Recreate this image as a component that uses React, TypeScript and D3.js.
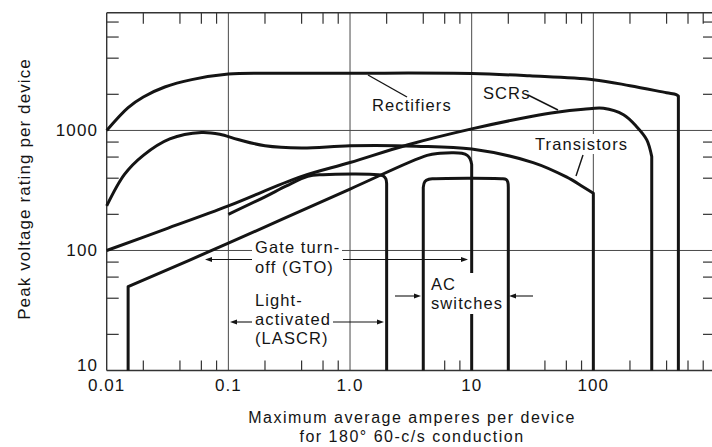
import React from 'react';
import * as d3 from 'd3';

type P = [number, number];

// Curves: [amperes, volts]
const rectifiers: P[] = [
  [0.01, 1000], [0.015, 1550], [0.02, 1900], [0.03, 2300], [0.05, 2650], [0.1, 2950],
  [0.2, 3000], [1, 3000], [10, 2980], [30, 2850], [100, 2650], [200, 2360], [400, 2060],
  [480, 1990], [500, 1930], [500, 10],
];
const transistors: P[] = [
  [0.01, 235], [0.014, 430], [0.02, 620], [0.033, 850], [0.06, 962], [0.085, 930],
  [0.12, 840], [0.2, 745], [0.4, 715], [1, 745], [3.5, 740], [10, 700], [32, 540],
  [60, 410], [82, 340], [100, 300], [100, 10],
];
const scrs: P[] = [
  [0.01, 100], [0.03, 150], [0.1, 235], [0.39, 410], [1, 540], [3, 760], [10, 1030],
  [30, 1300], [50, 1420], [83, 1500], [121, 1530], [177, 1350], [227, 1075], [275, 835],
  [302, 605], [302, 10],
];
const gto: P[] = [
  [0.015, 10], [0.015, 50], [0.1, 115], [1, 325], [4.3, 620], [5.5, 645], [7, 652],
  [8.3, 645], [9.2, 620], [9.7, 580], [10, 520], [10, 10],
];
const lascr: P[] = [
  [0.1, 200], [0.2, 280], [0.3, 345], [0.45, 415], [0.6, 428], [1.7, 428], [1.88, 418],
  [1.97, 395], [2.0, 360], [2.0, 10],
];
const acSwitches: P[] = [
  [4, 10], [4, 335], [4.12, 375], [4.45, 392], [4.9, 396], [17.5, 396], [19.2, 390],
  [19.8, 372], [20, 335], [20, 10],
];

const xTickValues = [0.01, 0.1, 1, 10, 100];
const xTickLabels = ['0.01', '0.1', '1.0', '10', '100'];
const yTickValues = [10, 100, 1000];
const yTickLabels = ['10', '100', '1000'];
const xGrid = [0.1, 1, 10, 100];
const yGrid = [100, 1000];
const minorMult = [2, 4, 6, 8];
const xDecades = [0.01, 0.1, 1, 10, 100];
const yDecades = [10, 100, 1000];

const W = 712;
const H = 447;
const x = d3.scaleLog().domain([0.01, 1000]).range([106.7, 715]);
const y = d3.scaleLog().domain([10, 9570]).range([370.5, 12.7]);
const left = x(0.01);
const right = x(1000);
const top = y(9570);
const bottom = y(10);

const FONT = '"Liberation Sans", Arial, Helvetica, sans-serif';
const INK = '#141414';

function curvePath(pts: P[]): string {
  const n = pts.length;
  const head = pts[0][0] === pts[1][0] ? 1 : 0;
  const tail = pts[n - 1][0] === pts[n - 2][0] ? 1 : 0;
  const core = pts.slice(head, n - tail);
  const gen = d3
    .line<P>()
    .x((d) => x(d[0]))
    .y((d) => y(d[1]))
    .curve(d3.curveCatmullRom.alpha(0.5));
  let d = gen(core) || '';
  if (head) d = `M${x(pts[0][0])},${y(pts[0][1])}L` + d.slice(1);
  if (tail) d += `L${x(pts[n - 1][0])},${y(pts[n - 1][1])}`;
  return d;
}

function Arrow({ x1, x2, yy }: { x1: number; x2: number; yy: number }) {
  const dir = x2 > x1 ? 1 : -1;
  const hl = 7;
  const hw = 2.6;
  return (
    <g>
      <line x1={x1} y1={yy} x2={x2 - dir * hl * 0.6} y2={yy} stroke={INK} strokeWidth={1.1} />
      <polygon
        points={`${x2},${yy} ${x2 - dir * hl},${yy - hw} ${x2 - dir * hl},${yy + hw}`}
        fill={INK}
      />
    </g>
  );
}

export default function App() {
  const xMinor = xDecades.flatMap((d) => minorMult.map((m) => d * m));
  const yMinor = yDecades.flatMap((d) => minorMult.map((m) => d * m));
  const series = [rectifiers, transistors, scrs, gto, lascr, acSwitches];
  const txt = { fontFamily: FONT, fill: INK, letterSpacing: '1.1px' } as const;
  const ttl = { fontFamily: FONT, fill: INK, letterSpacing: '1.5px' } as const;

  return (
    <svg
      width={W}
      height={H}
      style={{ position: 'absolute', left: 0, top: 0, background: '#fff' }}
    >
      <rect x={0} y={0} width={W} height={H} fill="#fff" />
      {/* grid */}
      {xGrid.map((v) => (
        <line key={'gx' + v} x1={x(v)} x2={x(v)} y1={top} y2={bottom} stroke="#4a4a4a" strokeWidth={1} />
      ))}
      {yGrid.map((v) => (
        <line key={'gy' + v} x1={left} x2={right} y1={y(v)} y2={y(v)} stroke="#4a4a4a" strokeWidth={1} />
      ))}
      {/* frame */}
      <line x1={left} x2={right} y1={top} y2={top} stroke="#333" strokeWidth={1.4} />
      <line x1={left} x2={right} y1={bottom} y2={bottom} stroke="#333" strokeWidth={1.4} />
      <line x1={left} x2={left} y1={top} y2={bottom} stroke="#333" strokeWidth={1.4} />
      <line x1={right} x2={right} y1={top} y2={bottom} stroke="#333" strokeWidth={1.4} />
      {/* minor ticks */}
      {xMinor.map((v) => (
        <g key={'tx' + v}>
          <line x1={x(v)} x2={x(v)} y1={top} y2={top + 11} stroke="#333" strokeWidth={1.2} />
          <line x1={x(v)} x2={x(v)} y1={bottom} y2={bottom - 10} stroke="#333" strokeWidth={1.2} />
        </g>
      ))}
      {yMinor.map((v) => (
        <g key={'ty' + v}>
          <line x1={left} x2={left + 12} y1={y(v)} y2={y(v)} stroke="#333" strokeWidth={1.2} />
          <line x1={right} x2={right - 12} y1={y(v)} y2={y(v)} stroke="#333" strokeWidth={1.2} />
        </g>
      ))}
      {/* curves */}
      {series.map((s, i) => (
        <path
          key={'s' + i}
          d={curvePath(s)}
          fill="none"
          stroke={INK}
          strokeWidth={3}
          strokeLinejoin="round"
          strokeLinecap="butt"
        />
      ))}

      {/* annotations */}
      <line x1={368} y1={75} x2={407} y2={97} stroke={INK} strokeWidth={1.4} />
      <text x={372} y={111} fontSize={16.5} {...txt}>Rectifiers</text>

      <line x1={528} y1={95} x2={558} y2={110} stroke={INK} strokeWidth={1.4} />
      <text x={483} y={99} fontSize={16.5} {...txt}>SCRs</text>

      <rect x={533} y={134} width={96} height={20} fill="#fff" />
      <text x={535} y={150} fontSize={16.5} {...txt}>Transistors</text>
      <line x1={583} y1={155} x2={576} y2={176} stroke={INK} strokeWidth={1.4} />

      <rect x={252} y={238} width={90} height={38} fill="#fff" />
      <text x={255} y={253} fontSize={16.5} {...txt}>Gate turn-</text>
      <text x={255} y={273} fontSize={16.5} {...txt}>off (GTO)</text>
      <Arrow x1={252} x2={205} yy={259.5} />
      <Arrow x1={343} x2={468} yy={259.5} />

      <text x={255} y={306} fontSize={16.5} {...txt}>Light-</text>
      <text x={255} y={325} fontSize={16.5} {...txt}>activated</text>
      <text x={255} y={344} fontSize={16.5} {...txt}>(LASCR)</text>
      <Arrow x1={252} x2={230} yy={322} />
      <Arrow x1={333} x2={384} yy={322} />

      <rect x={427} y={273} width={77} height={41} fill="#fff" />
      <text x={431} y={290} fontSize={16.5} {...txt}>AC</text>
      <text x={431} y={309} fontSize={16.5} {...txt}>switches</text>
      <Arrow x1={395} x2={421} yy={296} />
      <Arrow x1={533} x2={509} yy={296} />

      {/* tick labels */}
      {xTickValues.map((v, i) => (
        <text
          key={'xl' + v}
          x={x(v)}
          y={391}
          textAnchor="middle"
          fontSize={17}
          {...txt}
        >
          {xTickLabels[i]}
        </text>
      ))}
      {yTickValues.map((v, i) => (
        <text
          key={'yl' + v}
          x={98}
          y={y(v) + (v === 10 ? -5 : 0)}
          textAnchor="end"
          dominantBaseline="central"
          fontSize={17}
          {...txt}
        >
          {yTickLabels[i]}
        </text>
      ))}

      {/* axis titles */}
      <text x={412} y={423} textAnchor="middle" fontSize={16} {...ttl}>
        Maximum average amperes per device
      </text>
      <text x={412} y={442} textAnchor="middle" fontSize={16} {...ttl}>
        for 180° 60-c/s conduction
      </text>
      <text
        transform="translate(24,189) rotate(-90)"
        textAnchor="middle"
        dominantBaseline="central"
        fontSize={17}
        {...txt}
      >
        Peak voltage rating per device
      </text>
    </svg>
  );
}
